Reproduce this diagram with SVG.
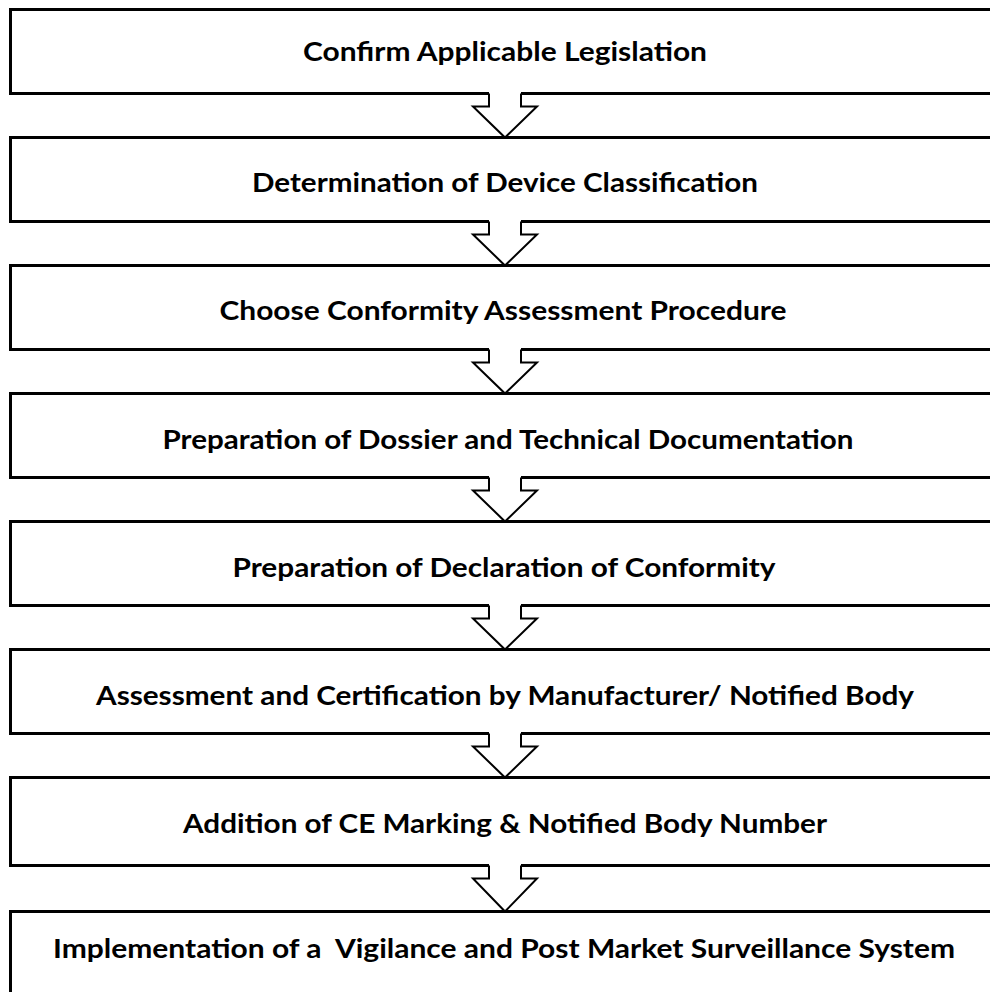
<svg xmlns="http://www.w3.org/2000/svg" width="990" height="992" viewBox="0 0 990 992">
<defs>
<style>
.box{fill:#fff;stroke:#000;stroke-width:3}
.lbl{font-family:Lato,"Open Sans","Liberation Sans",sans-serif;font-weight:bold;font-size:27px;fill:#000;text-anchor:middle}
.af{fill:#fff;stroke:none}
.as{fill:none;stroke:#000;stroke-width:2;stroke-linejoin:miter}
</style>
</defs>
<rect x="0" y="0" width="990" height="992" fill="#fff"/>
<g id="n1"><rect class="box" x="10.5" y="9.5" width="989" height="84"/><text class="lbl" x="505" y="61" textLength="404" lengthAdjust="spacingAndGlyphs">Confirm Applicable Legislation</text></g>
<g id="n2"><rect class="box" x="10.5" y="137.5" width="989" height="84"/><text class="lbl" x="505" y="192" textLength="506" lengthAdjust="spacingAndGlyphs">Determination of Device Classification</text></g>
<g id="n3"><rect class="box" x="10.5" y="265.5" width="989" height="84"/><text class="lbl" x="503" y="320" textLength="567" lengthAdjust="spacingAndGlyphs">Choose Conformity Assessment Procedure</text></g>
<g id="n4"><rect class="box" x="10.5" y="393.5" width="989" height="84"/><text class="lbl" x="508" y="448.5" textLength="691" lengthAdjust="spacingAndGlyphs">Preparation of Dossier and Technical Documentation</text></g>
<g id="n5"><rect class="box" x="10.5" y="521.5" width="989" height="84"/><text class="lbl" x="504" y="576.5" textLength="543" lengthAdjust="spacingAndGlyphs">Preparation of Declaration of Conformity</text></g>
<g id="n6"><rect class="box" x="10.5" y="649.5" width="989" height="84"/><text class="lbl" x="505" y="704.5" textLength="818" lengthAdjust="spacingAndGlyphs">Assessment and Certification by Manufacturer/ Notified Body</text></g>
<g id="n7"><rect class="box" x="10.5" y="777.5" width="989" height="88"/><text class="lbl" x="505" y="833" textLength="644" lengthAdjust="spacingAndGlyphs">Addition of CE Marking &amp; Notified Body Number</text></g>
<g id="n8"><rect class="box" x="10.5" y="911.5" width="989" height="100"/><text class="lbl" x="504" y="958" textLength="902" lengthAdjust="spacingAndGlyphs" xml:space="preserve">Implementation of a  Vigilance and Post Market Surveillance System</text></g>
<g id="connectors">
<g transform="translate(0,93.5)"><polygon class="af" points="489,-2 489,13 473,13 505,44 537,13 521,13 521,-2"/><polyline class="as" points="489,0 489,13 473,13 505,44 537,13 521,13 521,0"/></g>
<g transform="translate(0,221.5)"><polygon class="af" points="489,-2 489,13 473,13 505,44 537,13 521,13 521,-2"/><polyline class="as" points="489,0 489,13 473,13 505,44 537,13 521,13 521,0"/></g>
<g transform="translate(0,349.5)"><polygon class="af" points="489,-2 489,13 473,13 505,44 537,13 521,13 521,-2"/><polyline class="as" points="489,0 489,13 473,13 505,44 537,13 521,13 521,0"/></g>
<g transform="translate(0,477.5)"><polygon class="af" points="489,-2 489,13 473,13 505,44 537,13 521,13 521,-2"/><polyline class="as" points="489,0 489,13 473,13 505,44 537,13 521,13 521,0"/></g>
<g transform="translate(0,605.5)"><polygon class="af" points="489,-2 489,13 473,13 505,44 537,13 521,13 521,-2"/><polyline class="as" points="489,0 489,13 473,13 505,44 537,13 521,13 521,0"/></g>
<g transform="translate(0,733.5)"><polygon class="af" points="489,-2 489,13 473,13 505,44 537,13 521,13 521,-2"/><polyline class="as" points="489,0 489,13 473,13 505,44 537,13 521,13 521,0"/></g>
<g transform="translate(0,865.5)"><polygon class="af" points="489,-2 489,13 473,13 505,46 537,13 521,13 521,-2"/><polyline class="as" points="489,0 489,13 473,13 505,46 537,13 521,13 521,0"/></g>
</g>
</svg>
